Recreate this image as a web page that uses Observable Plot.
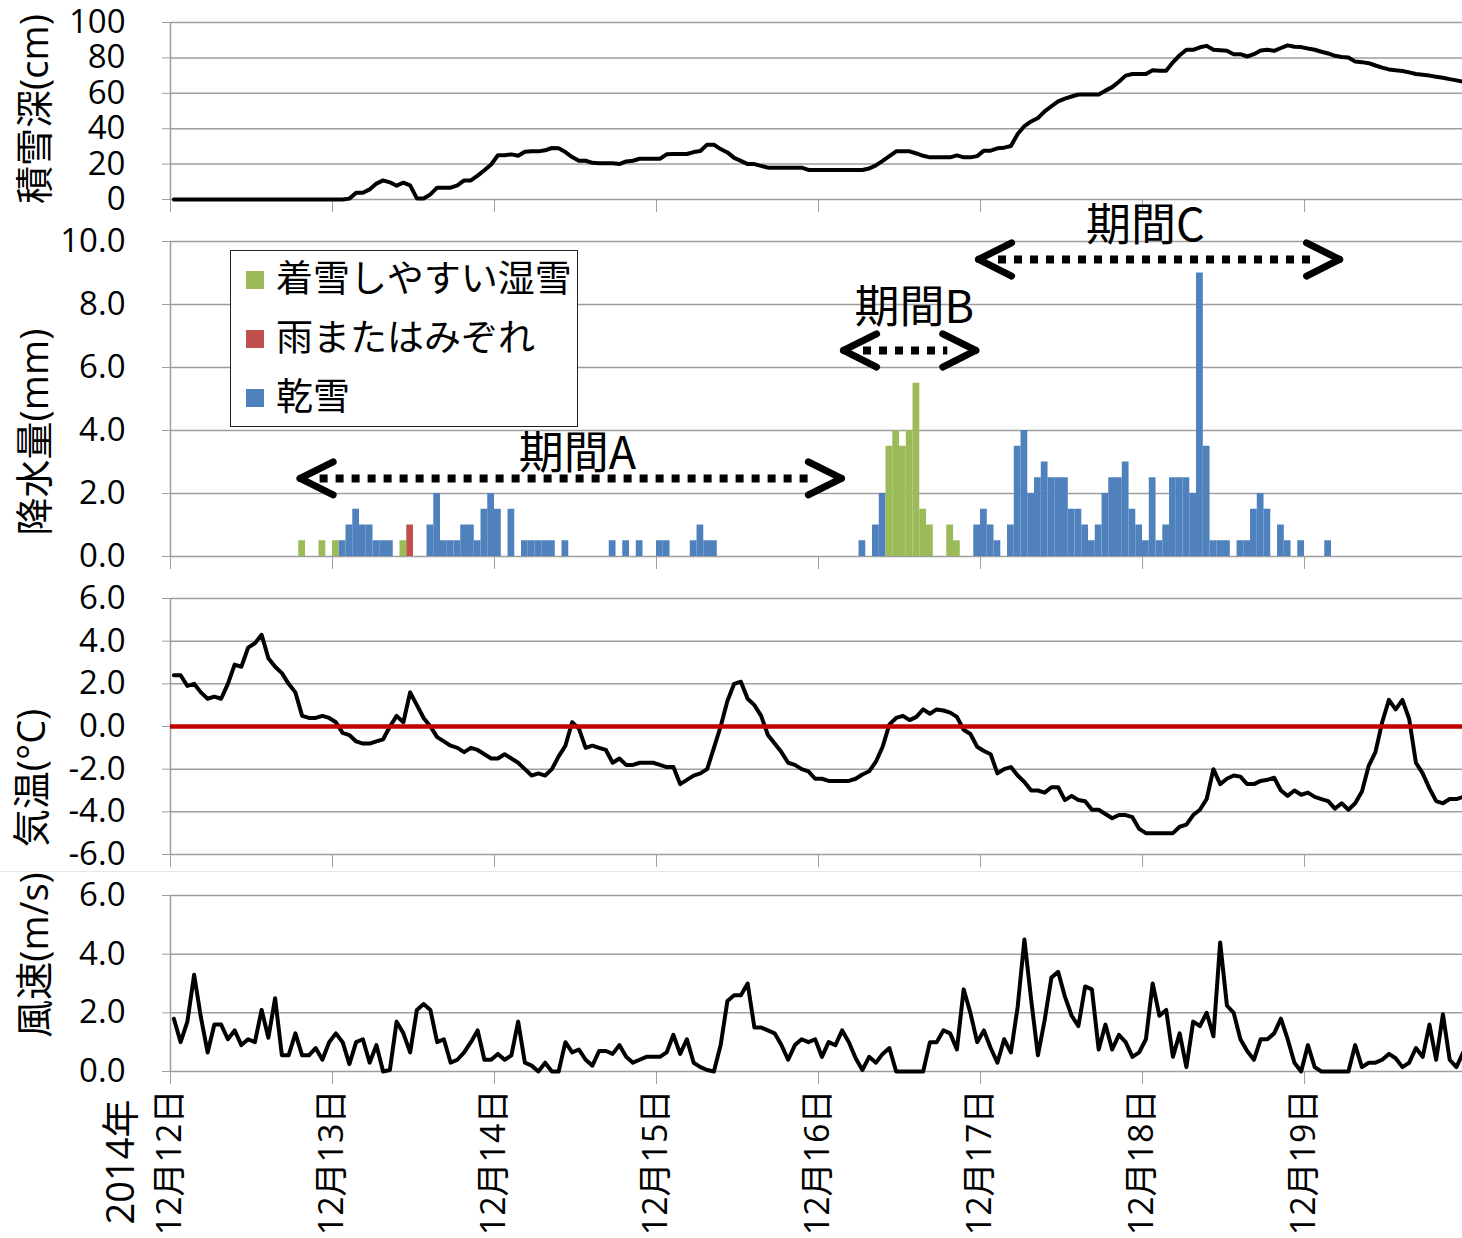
<!DOCTYPE html>
<html>
<head>
<meta charset="utf-8">
<script src="https://cdn.jsdelivr.net/npm/d3@7"></script>
<script src="https://cdn.jsdelivr.net/npm/@observablehq/plot@0.6"></script>
<style>
  html, body { margin: 0; padding: 0; background: #fff; }
  #wrap { position: relative; width: 1462px; height: 1238px; overflow: hidden; background: #fff;
          font-family: "Open Sans", "Noto Sans CJK JP", sans-serif; color: #000; }
  .ylab { position: absolute; white-space: nowrap; transform: translate(-50%, -50%) rotate(-90deg);
          font-size: 38px; line-height: 1; }
  #legend { position: absolute; background: #fff; border: 1.5px solid #222; box-sizing: border-box; }
  .lrow { position: absolute; left: 0; white-space: nowrap; font-family: "Noto Sans CJK JP", sans-serif; font-size: 37px; line-height: 1; }
  .lsw { position: absolute; width: 18px; height: 18px; }
  .sep { position: absolute; left: 0; width: 1462px; height: 1px; background: #e6e6e6; }
</style>
</head>
<body>
<div id="wrap"></div>
<script>
// ---------------- data (hourly, index 0 = 12月12日 first hour) ----------------
const dayTicks = [0, 24, 48, 72, 96, 120, 144, 168];
const dayLabels = ["12月12日", "12月13日", "12月14日", "12月15日", "12月16日", "12月17日", "12月18日", "12月19日"];
const yearLabel = "2014年";

// 積雪深 (cm)
const snowDepth = [
  0,0,0,0,0,0,0,0,0,0,0,0,0,0,0,0,0,0,0,0,0,0,0,0,
  0,0,0.5,3.8,3.8,5.7,9.0,10.8,9.7,7.8,9.5,8.0,0.6,0.6,2.9,6.7,6.7,6.7,8.0,10.8,10.8,13.5,16.5,19.8,
  25,25,25.5,24.7,27,27.2,27.2,27.8,29.1,28.9,26.8,24,21.9,21.9,20.7,20.5,20.5,20.5,20,21.5,21.9,23,23,23,
  23,25.5,25.7,25.7,25.7,26.8,27.4,31,31,28.5,26.6,23.5,21.8,20,20,19,18,18,18,18,18,18,16.7,16.7,
  16.7,16.7,16.7,16.7,16.7,16.7,16.7,17.5,19.3,21.8,24.5,27.2,27.2,27.2,26,24.7,23.8,23.8,23.8,23.8,24.9,23.8,23.8,24.5,
  27.6,27.6,28.9,29.3,30.2,37,41.5,44.1,46,49.8,52.7,55.5,57,58.2,59.3,59.3,59.3,59.3,61.5,63.5,66.5,70,70.9,70.9,
  70.9,73,72.8,72.8,77.5,81.5,84.6,84.6,86,86.8,84.6,84.3,84,82.1,82.1,80.8,82.1,84.2,84.6,84,85.6,87.1,86.3,86.1,
  85.3,84.6,83.5,82.5,81.2,80.5,80.2,77.9,77.6,77,75.7,74.5,73.5,73,72.6,71.8,70.9,70.5,70,69.3,68.8,68,67.3,66.5
];

// 降水量 (mm): hour index, amount, type
const precipHour = [19,22,24,25,26,27,28,29,30,31,32,34,35,38,39,40,41,42,43,44,45,46,47,48,50,52,53,54,55,56,58,65,67,69,72,73,77,78,79,80,
  102,104,105,106,107,108,109,110,111,112,115,116,119,120,121,122,124,125,126,127,128,129,130,131,132,133,134,135,136,137,138,139,140,141,142,143,
  144,145,146,147,148,149,150,151,152,153,154,155,156,158,159,160,161,162,164,165,167,171];
const precipValue = [0.5,0.5,0.5,0.5,1.0,1.5,1.0,1.0,0.5,0.5,0.5,0.5,1.0,1.0,2.0,0.5,0.5,0.5,1.0,1.0,0.5,1.5,2.0,1.5,1.5,0.5,0.5,0.5,0.5,0.5,0.5,0.5,0.5,0.5,0.5,0.5,0.5,1.0,0.5,0.5,
  0.5,1.0,2.0,3.5,4.0,3.5,4.0,5.5,1.5,1.0,1.0,0.5,1.0,1.5,1.0,0.5,1.0,3.5,4.0,2.0,2.5,3.0,2.5,2.5,2.5,1.5,1.5,1.0,0.5,1.0,2.0,2.5,2.5,3.0,1.5,1.0,
  0.5,2.5,0.5,1.0,2.5,2.5,2.5,2.0,9.0,3.5,0.5,0.5,0.5,0.5,0.5,1.5,2.0,1.5,1.0,0.5,0.5,0.5];
const precipKind = ["w","w","w","d","d","d","d","d","d","d","d","w","r","d","d","d","d","d","d","d","d","d","d","d","d","d","d","d","d","d","d","d","d","d","d","d","d","d","d","d",
  "d","d","d","w","w","w","w","w","w","w","w","w","d","d","d","d","d","d","d","d","d","d","d","d","d","d","d","d","d","d","d","d","d","d","d","d",
  "d","d","d","d","d","d","d","d","d","d","d","d","d","d","d","d","d","d","d","d","d","d"];
const kindKeys = ["w", "r", "d"];
const kindLabels = ["着雪しやすい湿雪", "雨またはみぞれ", "乾雪"];
const kindColors = ["#9BBB59", "#C0504D", "#4F81BD"];

// 期間 annotations (x in hours, y in mm)
const periodNames = ["期間A", "期間B", "期間C"];
const periodStart = [19.2, 99.7, 119.7];
const periodEnd = [99.4, 119.3, 173.2];
const periodY = [2.48, 6.54, 9.43];
const periodLabelX = [60.3, 110.2, 144.4];
const periodLabelY = [3.22, 7.87, 10.48];

// 気温 (°C)
const temperature = [
  2.4,2.4,1.9,2.0,1.6,1.3,1.4,1.3,2.0,2.9,2.8,3.7,3.9,4.3,3.2,2.8,2.5,2.0,1.6,0.5,0.4,0.4,0.5,0.4,
  0.2,-0.3,-0.4,-0.7,-0.8,-0.8,-0.7,-0.6,0.0,0.5,0.2,1.6,1.0,0.4,0.0,-0.5,-0.7,-0.9,-1.0,-1.2,-1.0,-1.1,-1.3,-1.5,
  -1.5,-1.3,-1.5,-1.7,-2.0,-2.3,-2.2,-2.3,-2.0,-1.4,-0.9,0.2,-0.1,-1.0,-0.9,-1.0,-1.1,-1.7,-1.5,-1.8,-1.8,-1.7,-1.7,-1.7,
  -1.8,-1.9,-1.9,-2.7,-2.5,-2.3,-2.2,-2.0,-1.0,0.0,1.2,2.0,2.1,1.3,1.0,0.5,-0.4,-0.8,-1.2,-1.7,-1.8,-2.0,-2.1,-2.45,
  -2.45,-2.55,-2.55,-2.55,-2.55,-2.45,-2.25,-2.1,-1.65,-0.95,0.1,0.4,0.5,0.3,0.45,0.8,0.6,0.8,0.75,0.65,0.45,-0.15,-0.35,-0.95,
  -1.15,-1.3,-2.2,-2.0,-1.9,-2.3,-2.6,-3.0,-3.0,-3.1,-2.85,-2.85,-3.45,-3.25,-3.45,-3.5,-3.9,-3.9,-4.1,-4.3,-4.15,-4.15,-4.25,-4.8,
  -5.0,-5.0,-5.0,-5.0,-5.0,-4.7,-4.6,-4.15,-3.9,-3.4,-2.0,-2.7,-2.45,-2.3,-2.35,-2.7,-2.7,-2.55,-2.5,-2.4,-3.0,-3.25,-3.0,-3.2,
  -3.1,-3.3,-3.4,-3.5,-3.85,-3.6,-3.9,-3.6,-3.05,-1.85,-1.2,0.2,1.25,0.8,1.25,0.35,-1.7,-2.2,-2.9,-3.5,-3.6,-3.4,-3.4,-3.3
];

// 風速 (m/s)
const windSpeed = [
  1.8,1.0,1.7,3.3,1.85,0.65,1.6,1.6,1.1,1.4,0.9,1.1,1.0,2.1,1.15,2.5,0.55,0.55,1.3,0.55,0.55,0.8,0.4,1.0,
  1.3,1.0,0.25,1.0,1.1,0.3,0.9,0.0,0.05,1.7,1.3,0.65,2.1,2.3,2.1,1.0,1.1,0.3,0.4,0.65,1.0,1.4,0.4,0.4,
  0.6,0.4,0.55,1.7,0.3,0.2,0.0,0.3,0.0,0.0,1.0,0.65,0.75,0.4,0.2,0.7,0.7,0.6,0.9,0.5,0.3,0.4,0.5,0.5,
  0.5,0.65,1.25,0.6,1.1,0.3,0.15,0.05,0.0,0.9,2.4,2.6,2.6,3.0,1.5,1.5,1.4,1.3,0.9,0.4,0.9,1.1,1.0,1.1,
  0.5,1.0,0.9,1.4,1.0,0.45,0.05,0.5,0.3,0.6,0.8,0.0,0.0,0.0,0.0,0.0,1.0,1.0,1.4,1.3,0.75,2.8,2.0,1.0,
  1.4,0.8,0.3,1.1,0.65,2.2,4.5,2.45,0.55,1.75,3.2,3.4,2.55,1.9,1.55,2.9,2.8,0.75,1.6,0.75,1.25,1.0,0.5,0.65,
  1.1,3.0,1.9,2.1,0.5,1.3,0.15,1.7,1.55,2.0,1.2,4.4,2.25,2.0,1.1,0.7,0.4,1.1,1.1,1.3,1.8,1.1,0.3,0.0,
  0.9,0.15,0.0,0.0,0.0,0.0,0.0,0.9,0.15,0.3,0.3,0.4,0.6,0.45,0.15,0.3,0.8,0.5,1.6,0.4,1.95,0.4,0.15,0.65
];

const yTitles = ["積雪深(cm)", "降水量(mm)", "気温(°C)", "風速(m/s)"];
const snowTicks = [0, 20, 40, 60, 80, 100];
const precipTicks = [0, 2, 4, 6, 8, 10];
const tempTicks = [-6, -4, -2, 0, 2, 4, 6];
const windTicks = [0, 2, 4, 6];

// ---------------- drawing ----------------
const wrap = document.getElementById("wrap");
const W = 1462, ML = 170;
const xDomain = [0, 191.4];
const gridColor = "#9e9e9e";
const lineWidth = 4;
const baseFont = '"Open Sans", "Noto Sans CJK JP", sans-serif';
const cjkFont = '"Noto Sans CJK JP", sans-serif';
const series = arr => arr.map((v, i) => ({t: i + 0.5, v}));
const fmt1 = d => d.toFixed(1);
const fmt0 = d => String(d);

function panel({top, height, mt, mb, yDomain, yTicks, fmt, marks, labels, color}) {
  const svg = Plot.plot({
    width: W, height,
    marginLeft: ML, marginRight: 0, marginTop: mt, marginBottom: mb,
    style: {fontSize: "33px", fontFamily: baseFont, color: "black", background: "transparent", overflow: "visible"},
    x: {domain: xDomain},
    y: {domain: yDomain},
    color,
    marks: [
      Plot.gridY({ticks: yTicks, stroke: gridColor, strokeOpacity: 1, strokeWidth: 1.5}),
      Plot.ruleX([0], {stroke: gridColor, strokeWidth: 1.5}),
      Plot.axisY({ticks: yTicks, tickSize: 8, tickPadding: 37, tickFormat: fmt, stroke: gridColor, label: null}),
      labels
        ? Plot.axisX({ticks: dayTicks, tickSize: 13, tickPadding: 5, stroke: gridColor, label: null, fontSize: 34,
                      tickRotate: -90, tickFormat: d => labels[Math.round(d / 24)]})
        : Plot.axisX({ticks: dayTicks, tickSize: 13, stroke: gridColor, label: null, tickFormat: () => ""}),
      ...marks
    ]
  });
  svg.style.position = "absolute";
  svg.style.left = "0px";
  svg.style.top = top + "px";
  wrap.appendChild(svg);
}

// panel 1: snow depth
panel({
  top: 0, height: 215, mt: 22, mb: 16, yDomain: [0, 100], yTicks: snowTicks, fmt: fmt0,
  marks: [Plot.line(series(snowDepth), {x: "t", y: "v", stroke: "black", strokeWidth: lineWidth, strokeLinejoin: "round"})]
});

// panel 2: precipitation
const precip = precipHour.map((h, i) => ({h, v: precipValue[i], k: precipKind[i]}));
const periods = periodNames.map((name, i) => ({
  name, start: periodStart[i], end: periodEnd[i], y: periodY[i], lx: periodLabelX[i], ly: periodLabelY[i]
}));
const chevrons = periods.flatMap(p => [
  {x: p.start, y: p.y, r: 63.4}, {x: p.start, y: p.y, r: 116.6},
  {x: p.end, y: p.y, r: -63.4}, {x: p.end, y: p.y, r: -116.6}
]);
const arm = {draw(context, l) { context.moveTo(0, 0); context.lineTo(0, -l); }};

panel({
  top: 215, height: 360, mt: 26, mb: 19, yDomain: [0, 10], yTicks: precipTicks, fmt: fmt1,
  color: {domain: kindKeys, range: kindColors},
  marks: [
    Plot.rectY(precip, {x1: "h", x2: d => d.h + 1, y: "v", fill: "k"}),
    Plot.ruleY(periods, {y: "y", x1: "start", x2: "end", insetLeft: 20, insetRight: 28,
                         stroke: "black", strokeWidth: 8, strokeDasharray: "8,8"}),
    Plot.vector(chevrons, {x: "x", y: "y", rotate: "r", length: 37, anchor: "start", shape: arm,
                           stroke: "black", strokeWidth: 7, strokeLinecap: "round"}),
    Plot.text(periods, {x: "lx", y: "ly", text: "name", fontSize: 45, fontFamily: cjkFont, fill: "black"})
  ]
});

// panel 3: temperature
panel({
  top: 575, height: 295, mt: 23, mb: 16, yDomain: [-6, 6], yTicks: tempTicks, fmt: fmt1,
  marks: [
    Plot.line(series(temperature), {x: "t", y: "v", stroke: "black", strokeWidth: lineWidth, strokeLinejoin: "round"}),
    Plot.ruleY([0], {stroke: "#C00000", strokeWidth: 4.5})
  ]
});

// panel 4: wind speed (with date labels)
panel({
  top: 870, height: 368, mt: 25, mb: 167, yDomain: [0, 6], yTicks: windTicks, fmt: fmt1, labels: dayLabels,
  marks: [Plot.line(series(windSpeed), {x: "t", y: "v", stroke: "black", strokeWidth: lineWidth, strokeLinejoin: "round"})]
});

// faint separator like the original chart border
const sep = document.createElement("div");
sep.className = "sep"; sep.style.top = "871px";
wrap.appendChild(sep);

// y-axis titles
const titlePos = [[33, 109], [33, 432], [30, 778], [33, 955]];
yTitles.forEach((t, i) => {
  const d = document.createElement("div");
  d.className = "ylab";
  d.textContent = t;
  d.style.left = titlePos[i][0] + "px";
  d.style.top = titlePos[i][1] + "px";
  wrap.appendChild(d);
});
const yr = document.createElement("div");
yr.className = "ylab";
yr.textContent = yearLabel;
yr.style.left = "119px"; yr.style.top = "1162px";
wrap.appendChild(yr);

// legend
const lg = document.createElement("div");
lg.id = "legend";
lg.style.left = "230px"; lg.style.top = "250px"; lg.style.width = "348px"; lg.style.height = "177px";
kindLabels.forEach((lab, i) => {
  const cy = 28 + i * 59;
  const sw = document.createElement("div");
  sw.className = "lsw";
  sw.style.background = kindColors[i];
  sw.style.left = "15px"; sw.style.top = (cy - 8) + "px";
  lg.appendChild(sw);
  const tx = document.createElement("div");
  tx.className = "lrow";
  tx.textContent = lab;
  tx.style.left = "45px"; tx.style.top = (cy - 21) + "px";
  lg.appendChild(tx);
});
wrap.appendChild(lg);
</script>
</body>
</html>
